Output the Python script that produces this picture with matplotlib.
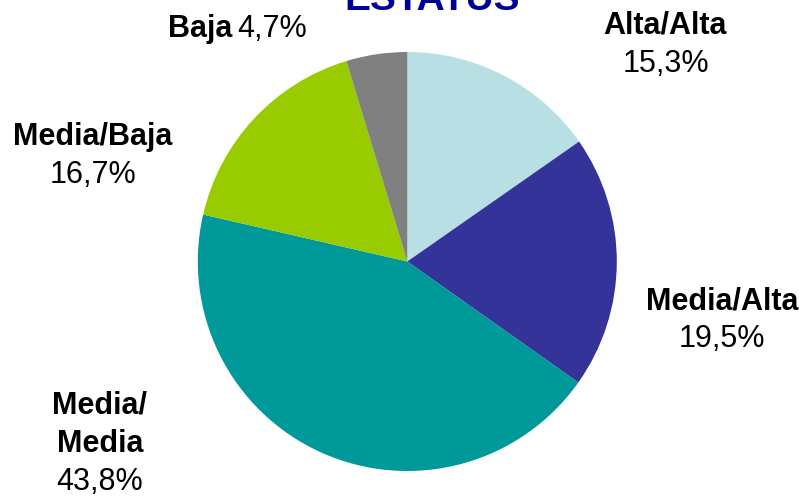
import matplotlib
matplotlib.use("Agg")
import matplotlib.pyplot as plt

categories = ["Alta/Alta", "Media/Alta", "Media/Media", "Media/Baja", "Baja"]
values = [15.3, 19.5, 43.8, 16.7, 4.7]
value_labels = ["15,3%", "19,5%", "43,8%", "16,7%", "4,7%"]
colors = ["#B8DFE3", "#333399", "#009999", "#99CC00", "#808080"]
title = "ESTATUS"

W, H = 799, 496
fig = plt.figure(figsize=(W / 100, H / 100), dpi=100)
ax = fig.add_axes([0, 0, 1, 1])

cx, cy, r = 407.3, 261.5, 209.5
ax.pie(values, colors=colors, startangle=90, counterclock=False,
       center=(cx, H - cy), radius=r, frame=True,
       wedgeprops=dict(edgecolor="none", linewidth=0))
ax.set_xlim(0, W)
ax.set_ylim(0, H)
ax.set_aspect("equal")
ax.axis("off")

FONT = "Liberation Sans"
FS = 22


def t(x, y, s, bold=True, ha="center", size=FS, color="black"):
    fig.text(x / W, 1 - y / H, s, ha=ha, va="baseline", fontsize=size,
             fontweight="bold" if bold else "normal", family=FONT, color=color)


# Title (cut off at top, as in the reference)
t(432, 10, title, size=28, color="#000099")

# Alta/Alta
t(665, 33, categories[0])
t(666, 72, value_labels[0], bold=False)
# Media/Alta
t(722, 310, categories[1])
t(722, 347, value_labels[1], bold=False)
# Media/Media
t(100, 413, "Media/")
t(100, 452, "Media")
t(100, 490, value_labels[2], bold=False)
# Media/Baja
t(93, 145, categories[3])
t(93, 183, value_labels[3], bold=False)
# Baja (bold name + normal value on one line)
t(168, 37, categories[4], ha="left")
t(237, 37, value_labels[4], bold=False, ha="left")

fig.savefig("out.png", dpi=100)
